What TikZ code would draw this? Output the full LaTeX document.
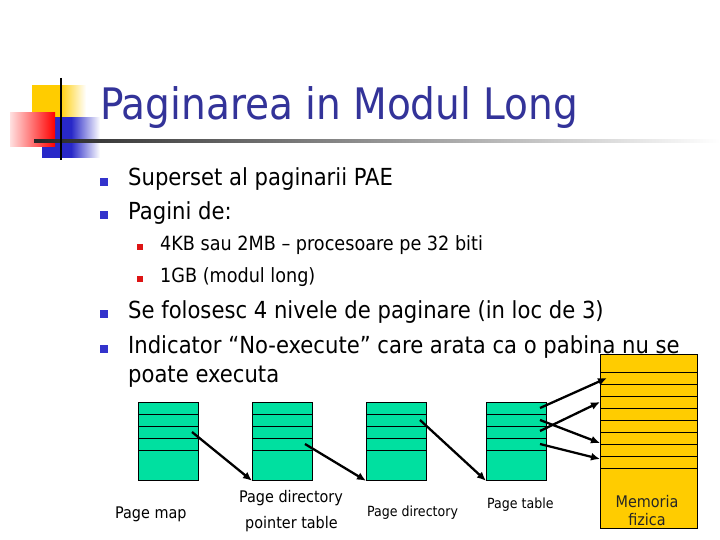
\documentclass[tikz,border=0pt]{standalone}
\usepackage{fontspec}
\setmainfont{DejaVu Sans Condensed}
\usetikzlibrary{arrows.meta}
\definecolor{titleblue}{RGB}{51,51,153}
\definecolor{bulblue}{RGB}{51,51,204}
\definecolor{bulred}{RGB}{221,20,20}
\definecolor{tabgreen}{RGB}{0,224,160}
\definecolor{memgold}{RGB}{255,204,0}
\definecolor{decoblue}{RGB}{40,40,200}
\tikzset{
  mainbul/.style={fill=bulblue,minimum size=8pt,inner sep=0pt,anchor=south west},
  subbul/.style={fill=bulred,minimum size=6pt,inner sep=0pt,anchor=south west},
  bodytext/.style={anchor=base west,inner sep=0pt,font=\fontsize{23.5}{28}\selectfont},
  subtext/.style={anchor=base west,inner sep=0pt,font=\fontsize{19.6}{24}\selectfont},
  tbl/.style={draw=black,line width=0.8pt,fill=tabgreen,anchor=north west,minimum width=60pt,minimum height=78pt,inner sep=0pt},
  memtbl/.style={draw=black,line width=0.8pt,fill=memgold,anchor=north west,minimum width=97pt,minimum height=174pt,inner sep=0pt},
  lbl/.style={anchor=base west,inner sep=0pt},
  ptr/.style={line width=2.3pt,-{Latex[length=9pt,width=8pt]}}
}
\begin{document}
\begin{tikzpicture}[x=1pt,y=-1pt]
\useasboundingbox (0,0) rectangle (720,540);
% decoration
\shade[left color=memgold,right color=white,middle color=memgold] (32,86) rectangle (86,120);
\shade[left color=decoblue,right color=white,middle color=decoblue] (42,118) rectangle (100,158);
\shade[left color=red!12,right color=red] (10,113) rectangle (55,147);
\shade[left color=black!85,right color=white] (34,140) rectangle (720,143);
\draw[line width=2pt] (61,78) -- (61,160);
% title
\node[anchor=base west,inner sep=0pt,text=titleblue,font=\fontsize{43.4}{50}\selectfont] (title) at (100,120) {Paginarea in Modul Long};
% bullets
\node[mainbul] (b1) at (100,186) {};
\node[bodytext] (t1) at (128,186) {Superset al paginarii PAE};
\node[mainbul] (b2) at (100,219) {};
\node[bodytext] (t2) at (128,219) {Pagini de:};
\node[subbul] (s1) at (137,250) {};
\node[subtext] (u1) at (160,250) {4KB sau 2MB – procesoare pe 32 biti};
\node[subbul] (s2) at (137,282) {};
\node[subtext] (u2) at (160,282) {1GB (modul long)};
\node[mainbul] (b3) at (100,318) {};
\node[bodytext] (t3) at (128,318) {Se folosesc 4 nivele de paginare (in loc de 3)};
\node[mainbul] (b4) at (100,353) {};
\node[bodytext] (t4) at (128,353) {Indicator “No-execute” care arata ca o pabina nu se};
\node[bodytext] (t5) at (128,382) {poate executa};
% tables
\node[tbl] (pm) at (138,402) {};
\node[tbl] (pdpt) at (252,402) {};
\node[tbl] (pd) at (366,402) {};
\node[tbl] (pt) at (486,402) {};
\foreach \t in {pm,pdpt,pd,pt}{
  \foreach \d in {12,24,36,48}{
    \draw[line width=0.8pt] ([yshift=-\d pt]\t.north west) -- ([yshift=-\d pt]\t.north east);
  }
}
\node[memtbl] (mem) at (600,354) {};
\foreach \d in {18,30,42,54,66,78,90,102,114}{
  \draw[line width=0.8pt] ([yshift=-\d pt]mem.north west) -- ([yshift=-\d pt]mem.north east);
}
% arrow endpoints
\coordinate (pmr) at ([xshift=54pt,yshift=-30pt]pm.north west);
\coordinate (pdptr) at ([xshift=53pt,yshift=-42pt]pdpt.north west);
\coordinate (pdr) at ([xshift=54pt,yshift=-18pt]pd.north west);
\coordinate (pt1) at ([xshift=54pt,yshift=-6pt]pt.north west);
\coordinate (pt2) at ([xshift=54pt,yshift=-18pt]pt.north west);
\coordinate (pt3) at ([xshift=54pt,yshift=-29pt]pt.north west);
\coordinate (pt4) at ([xshift=54pt,yshift=-42pt]pt.north west);
\coordinate (m1) at ([xshift=7pt,yshift=-24pt]mem.north west);
\coordinate (m2) at ([yshift=-89pt]mem.north west);
\coordinate (m3) at ([yshift=-48pt]mem.north west);
\coordinate (m4) at ([yshift=-105pt]mem.north west);
\draw[ptr] (pmr) -- (pdpt.south west);
\draw[ptr] (pdptr) -- (pd.south west);
\draw[ptr] (pdr) -- (pt.south west);
\draw[ptr] (pt1) -- (m1);
\draw[ptr] (pt2) -- (m2);
\draw[ptr] (pt3) -- (m3);
\draw[ptr] (pt4) -- (m4);
% labels
\node[lbl,font=\fontsize{16}{18}\selectfont] (l1) at (115,518) {Page map};
\node[lbl,font=\fontsize{16}{18}\selectfont] (l2) at (239,502) {Page directory};
\node[lbl,font=\fontsize{16}{18}\selectfont] (l2b) at (245,528) {pointer table};
\node[lbl,font=\fontsize{14}{16}\selectfont] (l3) at (367,516) {Page directory};
\node[lbl,font=\fontsize{14}{16}\selectfont] (l4) at (487,508) {Page table};
\node[anchor=base,inner sep=0pt,font=\fontsize{16}{18}\selectfont,text=black!85] (l5) at (647,507) {Memoria};
\node[anchor=base,inner sep=0pt,font=\fontsize{16}{18}\selectfont,text=black!85] (l5b) at (647,525) {fizica};
\end{tikzpicture}
\end{document}
